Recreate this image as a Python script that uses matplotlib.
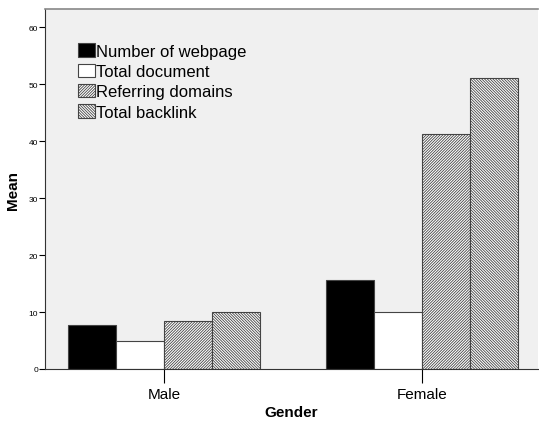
import matplotlib.pyplot as plt
import numpy as np

plt.rcParams['font.family'] = ['Liberation Sans', 'DejaVu Sans']
plt.rcParams['hatch.linewidth'] = 0.6
plt.rcParams['hatch.color'] = '#333333'

genders = ["Male", "Female"]
series = ["Number of webpage", "Total document", "Referring domains", "Total backlink"]
webpage = [7.8, 15.6]
document = [4.9, 10.0]
referring = [8.4, 41.3]
backlink = [10.0, 51.1]

values = [webpage, document, referring, backlink]
colors = ["black", "white", "white", "white"]
hatches = [None, None, "/" * 12, "\\" * 12]

fig = plt.figure(figsize=(5.39, 4.27), dpi=100)
ax = fig.add_axes([0.0835, 0.1335, 0.9145, 0.843])
ax.set_facecolor("#F0F0F0")

x = np.arange(len(genders))
w = 0.186
for i, (vals, c, h, lab) in enumerate(zip(values, colors, hatches, series)):
    ax.bar(x + (i - 1.5) * w, vals, w, color=c, hatch=h, edgecolor="#444444",
           linewidth=0.8, label=lab)

ax.set_xlim(-0.461, 1.45)
ax.set_ylim(0, 63.2)
ax.set_yticks(range(0, 61, 10))
ax.set_xticks(x)
ax.set_xticklabels(genders, fontsize=11)
ax.tick_params(axis="y", labelsize=6, length=4, width=0.8, pad=1)
ax.tick_params(axis="x", length=10, width=0.8, pad=3)
ax.spines["right"].set_visible(False)
ax.spines["top"].set_color("#888888")
ax.spines["top"].set_linewidth(1.2)
ax.spines["left"].set_color("#333333")
ax.spines["bottom"].set_color("#333333")

ax.set_xlabel("Gender", fontsize=11, fontweight="bold", labelpad=3)
ax.set_ylabel("Mean", fontsize=11, fontweight="bold", labelpad=6)

leg = ax.legend(loc="upper left", bbox_to_anchor=(0.067, 0.905), frameon=False,
                fontsize=12, handlelength=1.0, handleheight=0.85,
                handletextpad=0.05, labelspacing=0.3, borderpad=0, borderaxespad=0)

fig.savefig("out.png", dpi=100)
